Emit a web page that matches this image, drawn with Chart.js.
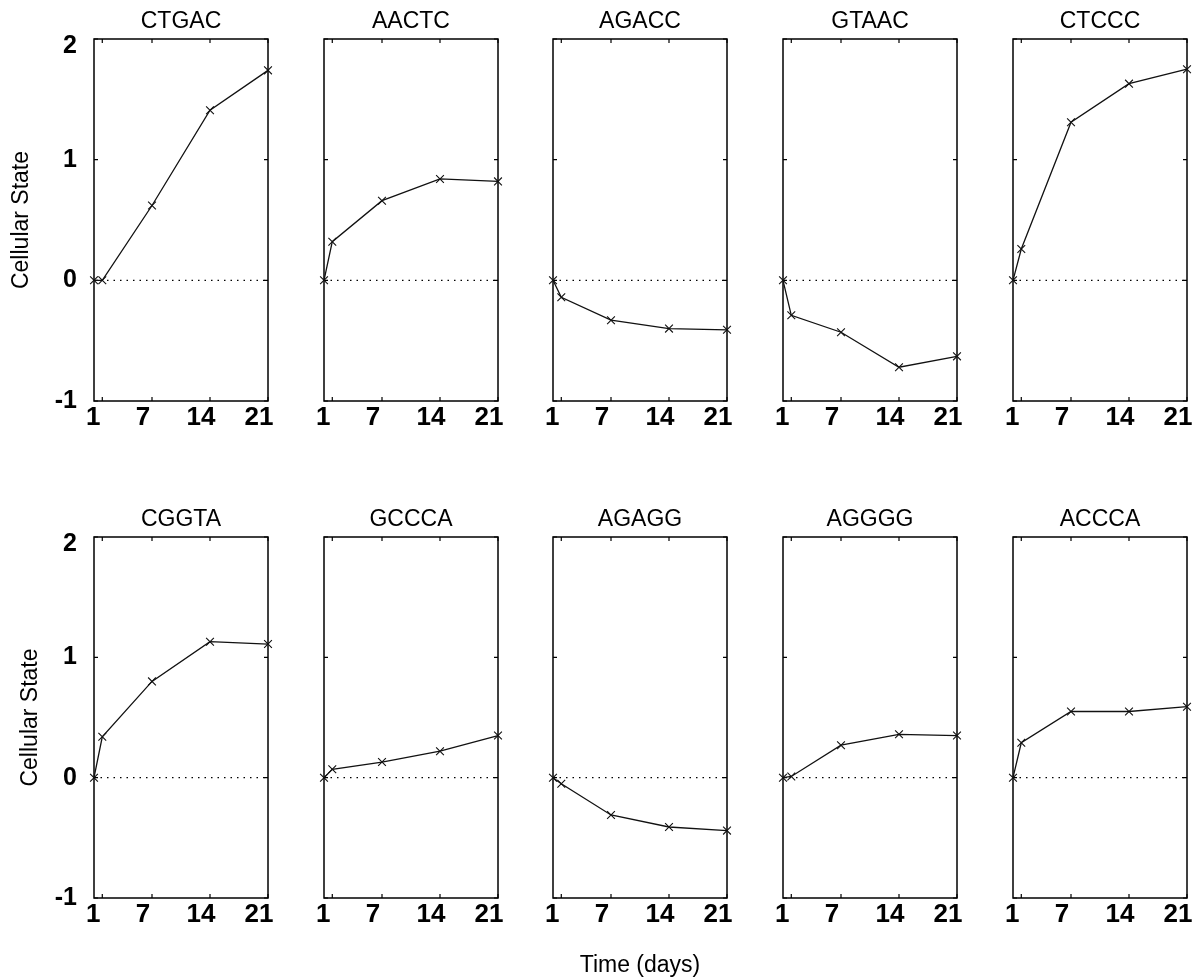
<!DOCTYPE html>
<html><head><meta charset="utf-8">
<script src="https://cdn.jsdelivr.net/npm/chart.js@4.4.1/dist/chart.umd.min.js"></script>
<style>
html,body{margin:0;padding:0;background:#fff;}
#fig{position:relative;width:1200px;height:980px;overflow:hidden;background:#fff;}
#fig canvas{position:absolute;}
</style></head><body><div id="fig"></div>
<script>
// ---- data ----
const panelNames = ['CTGAC','AACTC','AGACC','GTAAC','CTCCC','CGGTA','GCCCA','AGAGG','AGGGG','ACCCA'];
const timePoints = [0, 1, 7, 14, 21];
const xTickValues = [1, 7, 14, 21];
const yTickValues = [-1, 0, 1, 2];
const yLabel = 'Cellular State';
const xLabel = 'Time (days)';

const CTGAC = [0, 0.00, 0.62, 1.41, 1.74];
const AACTC = [0, 0.32, 0.66, 0.84, 0.82];
const AGACC = [0, -0.14, -0.33, -0.40, -0.41];
const GTAAC = [0, -0.29, -0.43, -0.72, -0.63];
const CTCCC = [0, 0.26, 1.31, 1.63, 1.75];
const CGGTA = [0, 0.34, 0.80, 1.13, 1.11];
const GCCCA = [0, 0.07, 0.13, 0.22, 0.35];
const AGAGG = [0, -0.05, -0.31, -0.41, -0.44];
const AGGGG = [0, 0.01, 0.27, 0.36, 0.35];
const ACCCA = [0, 0.29, 0.55, 0.55, 0.59];
const panelSeries = [CTGAC, AACTC, AGACC, GTAAC, CTCCC, CGGTA, GCCCA, AGAGG, AGGGG, ACCCA];

// ---- layout ----
const FONT = "'Liberation Sans', Arial, Helvetica, sans-serif";
const colLeft = [94, 324, 553, 783, 1013];
const rowTop = [39, 537];
const rowHeight = [362, 361];
const plotW = 174;
const titleH = 29;
const rightPad = 14;
const bottomH = [40, 82];

const boxPlugin = {
  id: 'matlabBox',
  beforeDatasetsDraw(chart) {
    const {ctx, chartArea: a, scales: {x, y}} = chart;
    ctx.save();
    ctx.strokeStyle = '#000';
    ctx.lineWidth = 1.5;
    ctx.strokeRect(a.left, a.top, a.right - a.left, a.bottom - a.top);
    ctx.lineWidth = 1.2;
    const L = 4;
    ctx.beginPath();
    xTickValues.forEach(v => {
      const px = x.getPixelForValue(v);
      ctx.moveTo(px, a.bottom); ctx.lineTo(px, a.bottom - L);
      ctx.moveTo(px, a.top); ctx.lineTo(px, a.top + L);
    });
    yTickValues.forEach(v => {
      const py = y.getPixelForValue(v);
      ctx.moveTo(a.left, py); ctx.lineTo(a.left + L, py);
      ctx.moveTo(a.right, py); ctx.lineTo(a.right - L, py);
    });
    ctx.stroke();
    ctx.restore();
  }
};

const fig = document.getElementById('fig');
panelNames.forEach((name, i) => {
  const r = Math.floor(i / 5), c = i % 5;
  const lw = c === 0 ? colLeft[0] : 20;
  const cv = document.createElement('canvas');
  const W = lw + plotW + rightPad;
  const H = titleH + rowHeight[r] + bottomH[r];
  cv.width = W; cv.height = H;
  cv.style.left = (colLeft[c] - lw) + 'px';
  cv.style.top = (rowTop[r] - titleH) + 'px';
  cv.style.width = W + 'px'; cv.style.height = H + 'px';
  fig.appendChild(cv);
  const series = panelSeries[i];
  new Chart(cv, {
    type: 'line',
    data: {
      datasets: [
        {
          data: timePoints.map((t, k) => ({x: t, y: series[k]})),
          borderColor: '#111', borderWidth: 1.3,
          pointStyle: 'crossRot', pointRadius: 5.5, pointBorderWidth: 1.1,
          pointBorderColor: '#111', pointBackgroundColor: '#111',
          tension: 0, clip: false, order: 1
        },
        {
          data: [{x: 0, y: 0}, {x: 21, y: 0}],
          borderColor: '#000', borderWidth: 1.3, borderDash: [1.5, 5],
          pointRadius: 0, clip: false, order: 2
        }
      ]
    },
    options: {
      responsive: false, animation: false, events: [],
      devicePixelRatio: 1,
      layout: {padding: {left: 0, right: rightPad, top: 0, bottom: 0}},
      plugins: {
        legend: {display: false},
        tooltip: {enabled: false},
        title: {
          display: true, text: name, fullSize: false, color: '#000',
          font: {family: FONT, size: 23, weight: 'normal', lineHeight: 1},
          padding: {top: 0, bottom: 6}
        }
      },
      scales: {
        x: {
          type: 'linear', min: 0, max: 21,
          grid: {display: false, drawTicks: false},
          border: {display: false},
          afterBuildTicks: s => { s.ticks = xTickValues.map(v => ({value: v})); },
          afterFit: s => { s.height = bottomH[r]; s.paddingLeft = 0; s.paddingRight = 0; },
          ticks: {
            display: true, padding: 1, color: '#000', labelOffset: -9,
            maxRotation: 0, minRotation: 0, autoSkip: false,
            font: {family: FONT, size: 26, weight: 'bold', lineHeight: 1.2},
            callback: v => String(v)
          },
          title: {
            display: (r === 1 && c === 2), text: xLabel, color: '#000',
            font: {family: FONT, size: 23, weight: 'normal', lineHeight: 1},
            padding: {top: 0, bottom: 3}
          }
        },
        y: {
          type: 'linear', min: -1, max: 2,
          grid: {display: false, drawTicks: false},
          border: {display: false},
          afterBuildTicks: s => { s.ticks = yTickValues.map(v => ({value: v})); },
          afterFit: s => { s.width = lw; s.paddingTop = 0; s.paddingBottom = 0; },
          ticks: {
            display: c === 0, padding: 17, color: '#000',
            font: ctx => ({family: FONT, size: 25, weight: 'bold',
              lineHeight: (ctx.tick && ctx.tick.value === 2) ? '14px' : 1.2}),
            callback: v => v === 2 ? ['', String(v)] : String(v)
          },
          title: {
            display: c === 0, text: yLabel, color: '#000',
            font: {family: FONT, size: 23, weight: 'normal', lineHeight: 1},
            padding: {top: r === 0 ? 10 : 19, bottom: 0}
          }
        }
      }
    },
    plugins: [boxPlugin]
  });
});
</script>
</body></html>
